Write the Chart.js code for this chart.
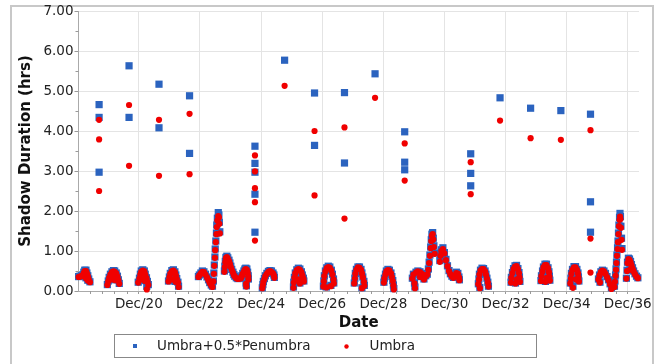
<!DOCTYPE html>
<html>
<head>
<meta charset="utf-8">
<script src="https://cdn.jsdelivr.net/npm/chart.js@4.4.1/dist/chart.umd.min.js"></script>
<style>
  html, body { margin: 0; padding: 0; background: #fff; overflow: hidden; }
  #wrap { position: relative; width: 660px; height: 364px; }
  #frame { position: absolute; left: 10px; top: 5px; width: 644px; height: 400px; box-sizing: border-box; border: 2px solid #c8c8c8; }
  canvas { position: absolute; left: 0; top: 0; z-index: 1; }
</style>
</head>
<body>
<div id="wrap">
  <div id="frame"></div>
  <canvas id="chart1" width="660" height="364"></canvas>
</div>
<script>
// x unit = years, 20 means Dec 2020
const xMin = 18.026;
const xMax = 36.367;
const yMax = 7;
const tickYears = [20, 22, 24, 26, 28, 30, 32, 34, 36];

// yearly clusters close to zero (both series share the dates)
const lowDates = [
  18.03, 18.07, 18.12, 18.17, 18.20, 18.23, 18.27, 18.30, 18.33, 18.36, 18.40, 18.33, 18.27,
  18.97, 19.00, 19.03, 19.07, 19.12, 19.17, 19.21, 19.26, 19.30, 19.33, 19.36, 19.13, 19.23, 19.18,
  19.98, 20.02, 20.05, 20.08, 20.13, 20.18, 20.21, 20.25, 20.28, 20.31, 20.10, 20.20, 20.26,
  20.97, 21.00, 21.03, 21.08, 21.13, 21.18, 21.21, 21.24, 21.28, 21.30, 21.10, 21.20,
  21.95, 21.98, 22.03, 22.08, 22.13, 22.18, 22.23, 22.28, 22.32, 22.37, 22.41,
  22.44, 22.455, 22.47, 22.49, 22.50, 22.52, 22.54, 22.55, 22.57, 22.60, 22.62, 22.635, 22.65,
  22.80, 22.815, 22.83, 22.85, 22.88, 22.91, 22.95, 22.98, 23.01, 23.04, 23.08, 23.11, 23.14, 23.19, 23.24, 23.29,
  23.34, 23.37, 23.40, 23.44, 23.47, 23.50, 23.535, 23.56, 23.58, 23.585, 23.51, 23.52,
  24.04, 24.06, 24.075, 24.11, 24.14, 24.19, 24.24, 24.29, 24.34, 24.39, 24.42, 24.435,
  25.06, 25.07, 25.09, 25.12, 25.17, 25.22, 25.27, 25.32, 25.35, 25.385, 25.40, 25.205, 25.27,
  26.04, 26.055, 26.07, 26.105, 26.15, 26.20, 26.25, 26.30, 26.335, 26.37, 26.38, 26.285, 26.14,
  27.05, 27.07, 27.085, 27.12, 27.17, 27.22, 27.27, 27.30, 27.33, 27.365, 27.38, 27.30,
  28.02, 28.035, 28.07, 28.10, 28.15, 28.20, 28.25, 28.28, 28.31, 28.33, 28.345,
  28.95, 28.985, 29.02, 29.035, 29.07, 29.13, 29.20, 29.26, 29.33, 29.39,
  29.44, 29.475, 29.50, 29.525, 29.55, 29.57, 29.59, 29.615, 29.635, 29.655,
  29.68, 29.85, 29.87, 29.90, 29.95, 30.00, 30.05, 30.10, 30.15, 30.195,
  30.245, 30.295, 30.345, 30.39, 30.44, 30.475, 30.49, 29.20, 29.33,
  31.11, 31.13, 31.145, 31.18, 31.23, 31.28, 31.33, 31.36, 31.39, 31.42, 31.44, 31.16,
  32.18, 32.19, 32.225, 32.26, 32.31, 32.36, 32.405, 32.44, 32.455, 32.47, 32.325, 32.375,
  33.16, 33.175, 33.21, 33.24, 33.29, 33.34, 33.39, 33.42, 33.435, 33.45, 33.305, 33.355,
  34.12, 34.14, 34.155, 34.19, 34.24, 34.29, 34.335, 34.37, 34.385, 34.40, 34.205, 34.305,
  35.04, 35.075, 35.09, 35.12, 35.17, 35.22, 35.27, 35.32, 35.37, 35.42, 35.465,
  35.565, 35.58, 35.60, 35.615, 35.63, 35.645, 35.665, 35.68, 35.695, 35.71, 35.73, 35.745, 35.76, 35.775, 35.795, 35.81,
  35.955, 35.975, 35.99, 36.02, 36.055, 36.07, 36.09, 36.12, 36.155, 36.19, 36.235, 36.285, 36.33
];
const lowPen = [
  0.36, 0.37, 0.38, 0.41, 0.47, 0.52, 0.52, 0.45, 0.38, 0.30, 0.23, 0.27, 0.33,
  0.16, 0.25, 0.34, 0.42, 0.48, 0.51, 0.50, 0.45, 0.37, 0.28, 0.19, 0.30, 0.28, 0.38,
  0.22, 0.32, 0.42, 0.50, 0.53, 0.50, 0.42, 0.33, 0.24, 0.16, 0.30, 0.26, 0.12,
  0.25, 0.35, 0.44, 0.51, 0.53, 0.48, 0.40, 0.31, 0.22, 0.12, 0.30, 0.24,
  0.36, 0.40, 0.45, 0.50, 0.48, 0.42, 0.35, 0.28, 0.21, 0.15, 0.12,
  0.25, 0.45, 0.65, 0.85, 1.05, 1.25, 1.45, 1.65, 1.82, 1.96, 1.90, 1.72, 1.48,
  0.50, 0.62, 0.74, 0.84, 0.87, 0.83, 0.77, 0.70, 0.62, 0.54, 0.47, 0.41, 0.37, 0.33, 0.31, 0.32,
  0.33, 0.38, 0.44, 0.50, 0.55, 0.57, 0.55, 0.47, 0.38, 0.30, 0.20, 0.13,
  0.08, 0.16, 0.24, 0.31, 0.38, 0.44, 0.49, 0.51, 0.50, 0.45, 0.40, 0.34,
  0.10, 0.22, 0.34, 0.45, 0.53, 0.57, 0.55, 0.48, 0.40, 0.32, 0.25, 0.30, 0.20,
  0.12, 0.25, 0.38, 0.50, 0.58, 0.62, 0.60, 0.52, 0.42, 0.30, 0.20, 0.14, 0.10,
  0.20, 0.32, 0.44, 0.54, 0.60, 0.60, 0.54, 0.45, 0.35, 0.24, 0.14, 0.08,
  0.22, 0.32, 0.42, 0.50, 0.54, 0.52, 0.45, 0.36, 0.26, 0.15, 0.06,
  0.32, 0.42, 0.20, 0.10, 0.47, 0.50, 0.48, 0.44, 0.40, 0.38,
  0.42, 0.55, 0.72, 0.90, 1.10, 1.28, 1.42, 1.46, 1.32, 1.13,
  0.95, 0.76, 0.90, 1.03, 1.08, 0.96, 0.79, 0.63, 0.51, 0.43,
  0.37, 0.34, 0.39, 0.47, 0.44, 0.35, 0.28, 0.36, 0.30,
  0.18, 0.30, 0.42, 0.52, 0.57, 0.56, 0.50, 0.42, 0.32, 0.22, 0.12, 0.09,
  0.22, 0.34, 0.46, 0.56, 0.63, 0.64, 0.56, 0.46, 0.35, 0.24, 0.20, 0.30,
  0.26, 0.38, 0.50, 0.60, 0.67, 0.67, 0.58, 0.48, 0.37, 0.27, 0.24, 0.34,
  0.20, 0.32, 0.44, 0.54, 0.61, 0.61, 0.54, 0.45, 0.35, 0.25, 0.12, 0.30,
  0.30, 0.40, 0.22, 0.48, 0.52, 0.50, 0.44, 0.36, 0.28, 0.18, 0.08,
  0.12, 0.25, 0.40, 0.55, 0.72, 0.90, 1.08, 1.25, 1.45, 1.65, 1.84, 1.94, 1.86, 1.62, 1.32, 1.06,
  0.32, 0.52, 0.72, 0.82, 0.80, 0.55, 0.74, 0.66, 0.58, 0.50, 0.43, 0.37, 0.33
];
const lowUmb = [
  0.35, 0.36, 0.37, 0.40, 0.45, 0.50, 0.50, 0.44, 0.37, 0.29, 0.22, 0.26, 0.32,
  0.15, 0.24, 0.33, 0.41, 0.47, 0.49, 0.48, 0.44, 0.36, 0.27, 0.18, 0.29, 0.27, 0.37,
  0.21, 0.31, 0.41, 0.48, 0.51, 0.49, 0.41, 0.32, 0.23, 0.15, 0.29, 0.25, 0.04,
  0.24, 0.34, 0.43, 0.49, 0.51, 0.47, 0.39, 0.30, 0.21, 0.10, 0.29, 0.23,
  0.35, 0.39, 0.44, 0.48, 0.47, 0.41, 0.34, 0.27, 0.20, 0.14, 0.10,
  0.24, 0.43, 0.63, 0.83, 1.02, 1.22, 1.42, 1.60, 1.76, 1.87, 1.84, 1.68, 1.44,
  0.48, 0.60, 0.72, 0.82, 0.85, 0.81, 0.75, 0.68, 0.60, 0.53, 0.46, 0.40, 0.36, 0.32, 0.30, 0.31,
  0.32, 0.37, 0.43, 0.48, 0.53, 0.55, 0.53, 0.46, 0.37, 0.29, 0.18, 0.11,
  0.07, 0.15, 0.23, 0.30, 0.37, 0.43, 0.48, 0.50, 0.48, 0.44, 0.39, 0.33,
  0.08, 0.21, 0.33, 0.44, 0.52, 0.55, 0.53, 0.47, 0.39, 0.31, 0.24, 0.29, 0.19,
  0.11, 0.24, 0.37, 0.49, 0.57, 0.60, 0.58, 0.51, 0.41, 0.29, 0.19, 0.12, 0.09,
  0.19, 0.31, 0.43, 0.53, 0.59, 0.58, 0.53, 0.44, 0.34, 0.23, 0.13, 0.07,
  0.21, 0.31, 0.41, 0.49, 0.52, 0.51, 0.44, 0.35, 0.25, 0.14, 0.04,
  0.31, 0.41, 0.19, 0.07, 0.46, 0.49, 0.47, 0.43, 0.39, 0.37,
  0.41, 0.53, 0.70, 0.88, 1.07, 1.25, 1.38, 1.42, 1.29, 1.10,
  0.93, 0.73, 0.88, 1.00, 1.05, 0.94, 0.77, 0.62, 0.50, 0.42,
  0.36, 0.33, 0.38, 0.45, 0.43, 0.34, 0.27, 0.35, 0.29,
  0.17, 0.29, 0.41, 0.51, 0.55, 0.55, 0.49, 0.41, 0.31, 0.21, 0.11, 0.07,
  0.21, 0.33, 0.45, 0.55, 0.61, 0.62, 0.55, 0.45, 0.34, 0.23, 0.19, 0.29,
  0.25, 0.37, 0.49, 0.59, 0.65, 0.65, 0.57, 0.47, 0.36, 0.26, 0.23, 0.33,
  0.19, 0.31, 0.43, 0.53, 0.59, 0.59, 0.53, 0.44, 0.34, 0.24, 0.08, 0.29,
  0.29, 0.39, 0.21, 0.47, 0.51, 0.49, 0.43, 0.35, 0.27, 0.17, 0.05,
  0.10, 0.23, 0.38, 0.53, 0.70, 0.88, 1.05, 1.22, 1.42, 1.62, 1.78, 1.86, 1.80, 1.58, 1.28, 1.03,
  0.31, 0.50, 0.70, 0.80, 0.78, 0.53, 0.72, 0.64, 0.56, 0.49, 0.42, 0.36, 0.32
];

// scattered high values
const penDates = [18.70, 18.70, 18.70, 19.68, 19.68, 20.66, 20.66, 21.66, 21.66,
  23.80, 23.80, 23.80, 23.80, 23.80, 24.77, 25.75, 25.75, 26.73, 26.73, 27.73,
  28.70, 28.70, 28.70, 30.86, 30.86, 30.86, 31.82, 32.82, 33.81, 34.78, 34.78, 34.78];
const penValues = [4.66, 4.34, 2.97, 5.63, 4.34, 5.17, 4.08, 4.88, 3.44,
  3.62, 3.19, 2.97, 2.42, 1.47, 5.77, 4.95, 3.64, 4.96, 3.20, 5.43,
  3.98, 3.22, 3.03, 3.43, 2.94, 2.63, 4.83, 4.57, 4.51, 4.42, 2.23, 1.47];
const umbDates = [18.70, 18.70, 18.70, 19.68, 19.68, 20.66, 20.66, 21.66, 21.66,
  23.80, 23.80, 23.80, 23.80, 23.80, 24.77, 25.75, 25.75, 26.73, 26.73, 27.73,
  28.70, 28.70, 30.86, 30.86, 31.82, 32.82, 33.81, 34.78, 34.78, 34.78];
const umbValues = [4.28, 3.79, 2.50, 4.65, 3.13, 4.28, 2.88, 4.43, 2.92,
  3.39, 2.99, 2.57, 2.22, 1.26, 5.13, 4.00, 2.39, 4.09, 1.81, 4.83,
  3.69, 2.76, 3.22, 2.42, 4.26, 3.82, 3.78, 4.02, 1.31, 0.46];

const FONT = '"DejaVu Sans", Verdana, sans-serif';

function toPoints(xs, ys) {
    return xs.map((x, i) => ({ x: x, y: ys[i] }));
}

// small tick marks between the labelled ones
const minorTicks = {
    id: 'minorTicks',
    afterDraw(chart) {
        const ctx = chart.ctx;
        const xs = chart.scales.x, ys = chart.scales.y;
        ctx.save();
        ctx.strokeStyle = '#999';
        ctx.lineWidth = 1;
        ctx.beginPath();
        for (let v = 0.5; v < yMax; v += 1) {
            const y = Math.round(ys.getPixelForValue(v)) + 0.5;
            ctx.moveTo(xs.left - 3, y);
            ctx.lineTo(xs.left, y);
        }
        for (let k = 1; 18 + k * 0.4 < xMax; k++) {
            if (k % 5 === 0) continue;
            const x = Math.round(xs.getPixelForValue(18 + k * 0.4)) + 0.5;
            ctx.moveTo(x, ys.bottom);
            ctx.lineTo(x, ys.bottom + 3);
        }
        ctx.stroke();
        ctx.restore();
    }
};

// legend inside a grey box, like the original
const boxLegend = {
    id: 'boxLegend',
    afterDraw(chart) {
        const ctx = chart.ctx;
        const sets = chart.data.datasets;
        ctx.save();
        ctx.strokeStyle = '#888';
        ctx.lineWidth = 1;
        ctx.strokeRect(114.5, 334.5, 422, 23);
        ctx.fillStyle = sets[0].backgroundColor;
        ctx.fillRect(133, 344, 4, 4);
        ctx.fillStyle = sets[1].backgroundColor;
        ctx.beginPath();
        ctx.arc(346.5, 346.5, 2.2, 0, Math.PI * 2);
        ctx.fill();
        ctx.fillStyle = '#222';
        ctx.font = '13.5px ' + FONT;
        ctx.textBaseline = 'middle';
        ctx.fillText(sets[0].label, 157, 346.5);
        ctx.fillText(sets[1].label, 369.5, 346.5);
        ctx.restore();
    }
};

const ctx = document.getElementById('chart1').getContext('2d');
new Chart(ctx, {
    type: 'scatter',
    data: {
        datasets: [{
            label: 'Umbra+0.5*Penumbra',
            data: toPoints(lowDates, lowPen).concat(toPoints(penDates, penValues)),
            pointStyle: 'rect',
            pointRadius: 5.1,
            backgroundColor: '#2b63bf',
            borderWidth: 0,
            order: 2,
            clip: false
        }, {
            label: 'Umbra',
            data: toPoints(lowDates, lowUmb).concat(toPoints(umbDates, umbValues)),
            pointStyle: 'circle',
            pointRadius: 3.1,
            backgroundColor: '#f00000',
            borderWidth: 0,
            order: 1,
            clip: false
        }]
    },
    options: {
        responsive: false,
        animation: false,
        events: [],
        devicePixelRatio: 1,
        layout: { padding: { left: 13, right: 21, top: 11, bottom: 29 } },
        plugins: {
            legend: { display: false },
            tooltip: { enabled: false }
        },
        scales: {
            x: {
                type: 'linear',
                min: xMin,
                max: xMax,
                afterBuildTicks: s => { s.ticks = tickYears.map(v => ({ value: v })); },
                afterFit: s => { s.height = 44; },
                ticks: {
                    callback: v => 'Dec/' + v,
                    font: { family: FONT, size: 13.5 },
                    color: '#222',
                    padding: 2,
                    maxRotation: 0,
                    autoSkip: false
                },
                grid: { color: '#e4e4e4', tickColor: '#999', tickLength: 3 },
                border: { color: '#aaa' },
                title: {
                    display: true,
                    text: 'Date',
                    font: { family: FONT, size: 15, weight: 'bold' },
                    color: '#111',
                    padding: { top: 0, bottom: 3 }
                }
            },
            y: {
                min: 0,
                max: yMax,
                afterFit: s => { s.width = 65.5; },
                ticks: {
                    stepSize: 1,
                    callback: v => v.toFixed(2),
                    font: { family: FONT, size: 13.5 },
                    color: '#222',
                    padding: 1
                },
                grid: { color: '#e4e4e4', tickColor: '#999', tickLength: 4 },
                border: { color: '#aaa' },
                title: {
                    display: true,
                    text: 'Shadow Duration (hrs)',
                    font: { family: FONT, size: 15, weight: 'bold' },
                    color: '#111',
                    padding: { top: 4, bottom: 0 }
                }
            }
        }
    },
    plugins: [minorTicks, boxLegend]
});
</script>
</body>
</html>
